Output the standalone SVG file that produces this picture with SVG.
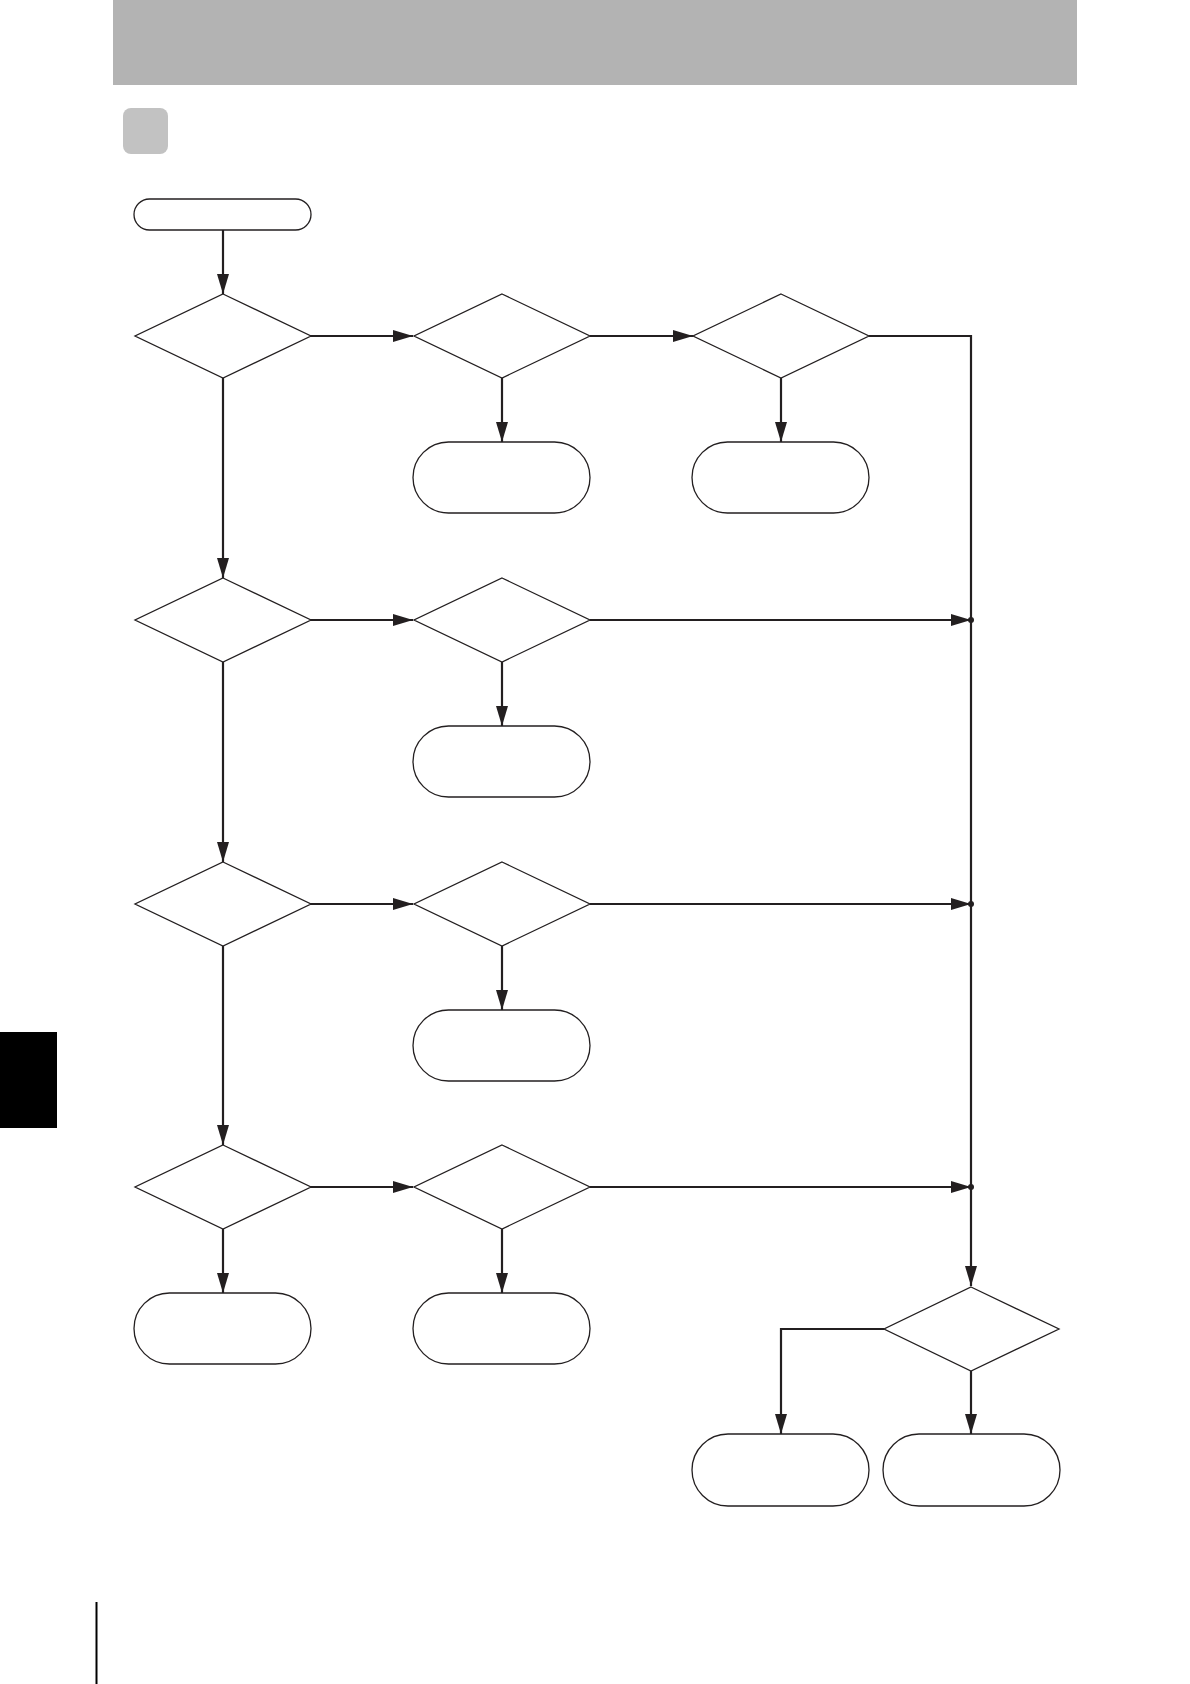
<svg xmlns="http://www.w3.org/2000/svg" width="1190" height="1684" viewBox="0 0 1190 1684">
<style>
.shape{fill:#fff;stroke:#231f20;stroke-width:1.3}
.conn{fill:none;stroke:#231f20;stroke-width:2.2}
</style>
<defs>
<marker id="arr" markerUnits="userSpaceOnUse" markerWidth="20" markerHeight="12" viewBox="0 0 20 12" refX="20" refY="6" orient="auto">
<path d="M0,0 L20,6 L0,12 Z" fill="#231f20"/>
</marker>
</defs>
<rect x="0" y="0" width="1190" height="1684" fill="#fff"/>
<rect id="header" x="113" y="0" width="964" height="85" fill="#b3b3b3"/>
<rect id="badge" x="123" y="108" width="45" height="46" rx="8" fill="#c2c2c2"/>
<rect id="sidetab" x="0" y="1032" width="57" height="96" fill="#000"/>
<line x1="96.5" y1="1602" x2="96.5" y2="1684" stroke="#000" stroke-width="2"/>

<g id="connectors">
<path class="conn" d="M223,230 V294" marker-end="url(#arr)"/>
<path class="conn" d="M310,336 H413" marker-end="url(#arr)"/>
<path class="conn" d="M590,336 H693" marker-end="url(#arr)"/>
<path class="conn" d="M869,336 H971 V1286" marker-end="url(#arr)"/>
<path class="conn" d="M502,378 V442" marker-end="url(#arr)"/>
<path class="conn" d="M781,378 V442" marker-end="url(#arr)"/>
<path class="conn" d="M223,378 V578" marker-end="url(#arr)"/>
<path class="conn" d="M310,620 H413" marker-end="url(#arr)"/>
<path class="conn" d="M590,620 H971" marker-end="url(#arr)"/>
<path class="conn" d="M502,662 V726" marker-end="url(#arr)"/>
<path class="conn" d="M223,662 V862" marker-end="url(#arr)"/>
<path class="conn" d="M310,904 H413" marker-end="url(#arr)"/>
<path class="conn" d="M590,904 H971" marker-end="url(#arr)"/>
<path class="conn" d="M502,946 V1010" marker-end="url(#arr)"/>
<path class="conn" d="M223,946 V1145" marker-end="url(#arr)"/>
<path class="conn" d="M310,1187 H413" marker-end="url(#arr)"/>
<path class="conn" d="M590,1187 H971" marker-end="url(#arr)"/>
<path class="conn" d="M223,1229 V1293" marker-end="url(#arr)"/>
<path class="conn" d="M502,1229 V1293" marker-end="url(#arr)"/>
<path class="conn" d="M884,1329 H781 V1434" marker-end="url(#arr)"/>
<path class="conn" d="M971,1371 V1434" marker-end="url(#arr)"/>
<circle cx="971" cy="620" r="3" fill="#231f20"/>
<circle cx="971" cy="904" r="3" fill="#231f20"/>
<circle cx="971" cy="1187" r="3" fill="#231f20"/>
</g>

<g id="start"><rect class="shape" x="134" y="199" width="177" height="31" rx="15.5"/></g>

<g id="d1"><polygon class="shape" points="223,294 311,336 223,378 135,336"/></g>
<g id="d2"><polygon class="shape" points="502,294 590,336 502,378 414,336"/></g>
<g id="d3"><polygon class="shape" points="781,294 869,336 781,378 693,336"/></g>
<g id="b2"><rect class="shape" x="413" y="442" width="177" height="71" rx="35.5"/></g>
<g id="b3"><rect class="shape" x="692" y="442" width="177" height="71" rx="35.5"/></g>

<g id="d4"><polygon class="shape" points="223,578 311,620 223,662 135,620"/></g>
<g id="d5"><polygon class="shape" points="502,578 590,620 502,662 414,620"/></g>
<g id="b5"><rect class="shape" x="413" y="726" width="177" height="71" rx="35.5"/></g>

<g id="d6"><polygon class="shape" points="223,862 311,904 223,946 135,904"/></g>
<g id="d7"><polygon class="shape" points="502,862 590,904 502,946 414,904"/></g>
<g id="b7"><rect class="shape" x="413" y="1010" width="177" height="71" rx="35.5"/></g>

<g id="d8"><polygon class="shape" points="223,1145 311,1187 223,1229 135,1187"/></g>
<g id="d9"><polygon class="shape" points="502,1145 590,1187 502,1229 414,1187"/></g>
<g id="b8"><rect class="shape" x="134" y="1293" width="177" height="71" rx="35.5"/></g>
<g id="b9"><rect class="shape" x="413" y="1293" width="177" height="71" rx="35.5"/></g>

<g id="d10"><polygon class="shape" points="971,1287 1059,1329 971,1371 884,1329"/></g>
<g id="b10"><rect class="shape" x="692" y="1434" width="177" height="72" rx="36"/></g>
<g id="b11"><rect class="shape" x="883" y="1434" width="177" height="72" rx="36"/></g>
</svg>
